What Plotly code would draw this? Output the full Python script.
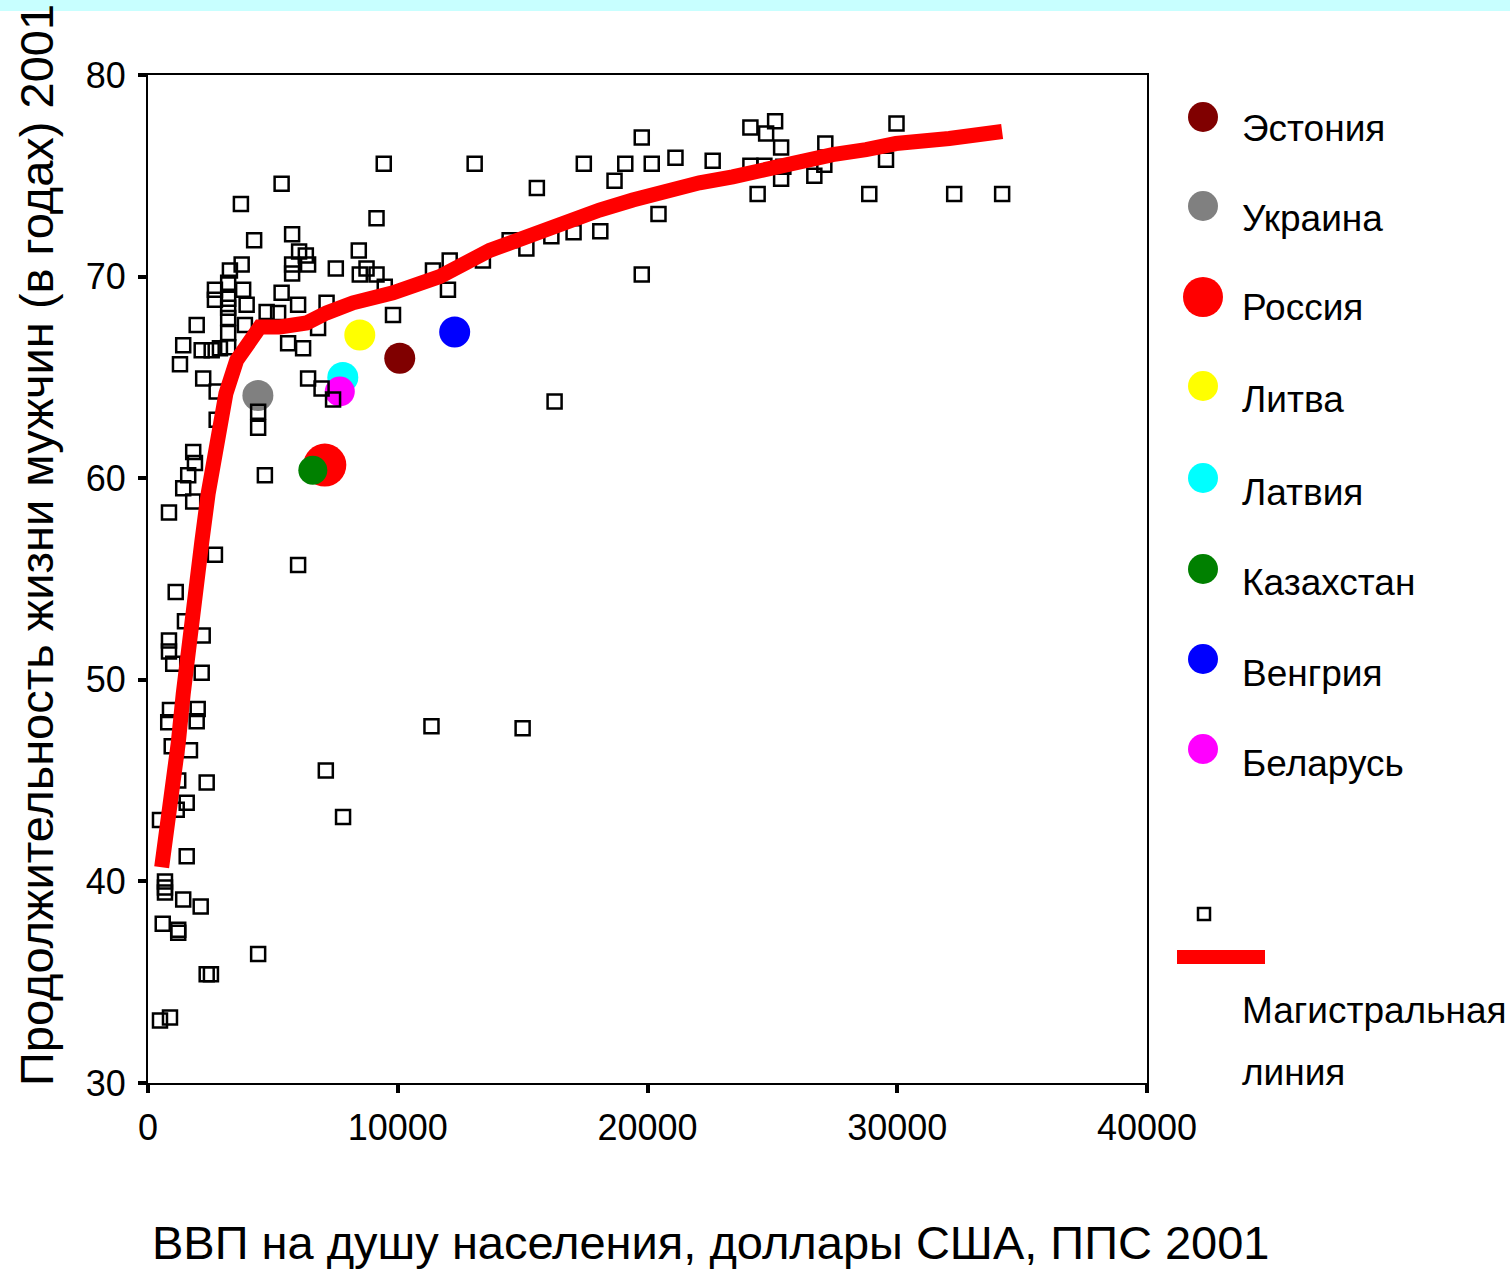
import plotly.graph_objects as go

# ---------------- data ----------------
other_gdp = [29970, 25110, 24120, 24750, 19770, 27120, 25350, 17450, 19110, 20170, 21120, 22610, 13080, 9440,
             15570, 18680, 24120, 24680, 25440, 25350, 26680, 27080, 29550, 28880, 24410, 32280, 34200, 20440,
             19770, 18110, 17040, 16150, 15150, 14480, 16280, 15000, 11350, 13410, 12080, 11410, 12010, 9810,
             9150, 5350, 3720, 4250, 5770, 6050, 6410, 5770, 5770, 6320, 7520, 8440, 8750, 8480, 9150, 9480,
             5350, 6010, 7150, 4750, 5210, 6810, 5610, 6210, 6410, 6950, 7410, 4410, 4410, 4680, 6010,
             3280, 3750, 3210, 2680, 2680, 3810, 3950, 3210, 3210, 3210, 3210, 3880, 1950, 1410, 2150, 2550,
             2880, 3210, 1280, 2210, 2750, 2750, 1810, 1880, 1610, 1410, 1810, 840, 2680, 1110, 1480, 2190,
             840, 840, 1010, 2150, 880, 810, 1990, 1950, 1680, 950, 2350, 1210, 1550, 1150, 480, 1550, 680,
             680, 680, 1410, 2110, 590, 1210, 1210, 4410, 2350, 2520, 480, 880, 7120, 7810]
other_life = [77.6, 77.7, 77.4, 77.1, 76.9, 76.6, 76.4, 75.6, 75.6, 75.6, 75.9, 75.75, 75.6, 75.6,
              74.4, 74.75, 75.5, 75.5, 75.45, 74.85, 75.0, 75.55, 75.8, 74.1, 74.1, 74.1, 74.1, 73.1,
              70.1, 72.25, 72.2, 72.0, 71.4, 71.8, 63.8, 47.6, 47.7, 70.8, 70.8, 70.3, 69.35, 68.1,
              72.9, 74.6, 73.6, 71.8, 72.1, 71.25, 70.6, 70.6, 70.15, 71.05, 70.4, 71.3, 70.4, 70.1, 70.1, 69.5,
              69.2, 68.6, 68.7, 68.25, 68.2, 67.45, 66.7, 66.45, 64.95, 64.45, 63.9, 63.3, 62.5, 60.15, 55.7,
              70.3, 70.6, 69.7, 69.35, 68.85, 69.35, 68.6, 68.9, 68.45, 67.95, 67.2, 67.6, 67.6, 66.6, 66.35, 66.35,
              66.45, 66.5, 65.65, 64.95, 64.3, 62.9, 61.3, 60.75, 60.15, 59.5, 58.85, 58.3, 56.2, 54.35, 52.9, 52.2,
              51.95, 51.4, 50.8, 50.35, 48.5, 47.9, 48.55, 47.95, 46.5, 46.7, 44.9, 45.0, 43.9, 43.55, 43.05, 41.25, 40.0,
              39.7, 39.45, 39.1, 38.75, 37.9, 37.6, 37.45, 36.4, 35.4, 35.4, 33.1, 33.25, 45.5, 43.2]

trend_gdp = [547, 880, 1210, 1410, 1610, 1880, 2150, 2410, 2640, 3120, 3550, 3950, 4480, 5280, 6350, 7150,
             8210, 9810, 11680, 13680, 15410, 16750, 18080, 19410, 20750, 22080, 23410, 24750, 26080, 27410,
             28750, 29950, 32080, 34200]
trend_life = [40.7, 43.5, 46.85, 49.3, 51.8, 54.3, 56.8, 59.25, 60.9, 64.2, 65.85, 66.7, 67.5, 67.5, 67.7, 68.2,
              68.7, 69.2, 70.0, 71.3, 72.15, 72.8, 73.3, 73.8, 74.3, 74.65, 74.95, 75.35, 75.7, 76.05,
              76.3, 76.6, 76.85, 77.2]

countries = ["Эстония", "Украина", "Россия", "Литва", "Латвия", "Казахстан", "Венгрия", "Беларусь"]
country_gdp = [10080, 4400, 7080, 8480, 7800, 6600, 12280, 7680]
country_life = [65.95, 64.1, 60.65, 67.1, 65.0, 60.4, 67.25, 64.3]
country_colors = ["#800000", "#808080", "#FF0000", "#FFFF00", "#00FFFF", "#008000", "#0000FF", "#FF00FF"]
country_sizes = [31, 31, 43, 31, 31, 29, 31, 30]

x_ticks = [0, 10000, 20000, 30000, 40000]
x_tick_labels = ["0", "10000", "20000", "30000", "40000"]
y_ticks = [30, 40, 50, 60, 70, 80]
y_tick_labels = ["30", "40", "50", "60", "70", "80"]

x_title = "ВВП на душу населения, доллары США, ППС 2001"
y_title = "Продолжительность жизни мужчин (в годах) 2001"
trend_name = ["Магистральная", "линия"]

# ---------------- layout geometry (pixels) ----------------
W, H = 1510, 1270
L, R, T, B = 148, 5, 75, 187
PW = W - L - R
PH = H - T - B
PLOT_RIGHT = 1147


def px(xp):
    return (xp - L) / PW


def py(yp):
    return (H - B - yp) / PH


SANS = "Liberation Sans, Arial, sans-serif"

fig = go.Figure()

# coloured country circles
for name, gx, ly, col, sz in zip(countries, country_gdp, country_life, country_colors, country_sizes):
    fig.add_trace(go.Scatter(x=[gx], y=[ly], mode="markers", name=name, showlegend=False,
                             marker=dict(symbol="circle", size=sz, color=col, opacity=1, line=dict(width=0))))

# other countries (open squares)
fig.add_trace(go.Scatter(x=other_gdp, y=other_life, mode="markers", showlegend=False,
                         marker=dict(symbol="square-open", size=14, color="black", line=dict(width=2.5, color="black"))))

# trend line
fig.add_trace(go.Scatter(x=trend_gdp, y=trend_life, mode="lines", showlegend=False,
                         line=dict(color="#FF0000", width=15)))

# ------------- custom legend on a pixel-scaled helper axis -------------
leg_x = 1203
leg_y = [117, 206, 297, 386, 478, 569, 659, 749]
leg_sizes = [30, 30, 40, 30, 30, 30, 30, 30]
fig.add_trace(go.Scatter(x=[leg_x] * len(countries), y=leg_y, xaxis="x2", yaxis="y2", mode="markers",
                         showlegend=False, hoverinfo="skip",
                         marker=dict(symbol="circle", size=leg_sizes, color=country_colors, opacity=1,
                                     line=dict(width=0))))
fig.add_trace(go.Scatter(x=[1204], y=[914], xaxis="x2", yaxis="y2", mode="markers", showlegend=False,
                         hoverinfo="skip",
                         marker=dict(symbol="square-open", size=12, color="black", line=dict(width=2.5, color="black"))))
fig.add_trace(go.Scatter(x=[1177, 1265], y=[957, 957], xaxis="x2", yaxis="y2", mode="lines", showlegend=False,
                         hoverinfo="skip", line=dict(color="#FF0000", width=14)))

annotations = []
leg_text_y = [128, 218, 308, 400, 492, 582, 673, 763]
for name, ty in zip(countries, leg_text_y):
    annotations.append(dict(text=name, xref="paper", yref="paper", x=px(1240), y=py(ty), xanchor="left",
                            yanchor="middle", showarrow=False, font=dict(family=SANS, size=37, color="black")))
annotations.append(dict(text=trend_name[0], xref="paper", yref="paper", x=px(1240), y=py(1010), xanchor="left",
                        yanchor="middle", showarrow=False, font=dict(family=SANS, size=37, color="black")))
annotations.append(dict(text=trend_name[1], xref="paper", yref="paper", x=px(1240), y=py(1072), xanchor="left",
                        yanchor="middle", showarrow=False, font=dict(family=SANS, size=37, color="black")))

# axis titles
annotations.append(dict(text=y_title, xref="paper", yref="paper", x=px(36), y=py(545), textangle=-90,
                        xanchor="center", yanchor="middle", showarrow=False,
                        font=dict(family=SANS, size=47, color="black")))
annotations.append(dict(text=x_title, xref="paper", yref="paper", x=px(711), y=py(1243),
                        xanchor="center", yanchor="middle", showarrow=False,
                        font=dict(family=SANS, size=47, color="black")))

axis_common = dict(showgrid=False, zeroline=False, showline=True, linecolor="black", linewidth=2,
                   mirror=True, ticks="outside", ticklen=8, tickwidth=4, tickcolor="black", automargin=False,
                   tickfont=dict(family=SANS, size=36, color="black"))

fig.update_layout(
    width=W, height=H,
    margin=dict(l=L, r=R, t=T, b=B, pad=0, autoexpand=False),
    paper_bgcolor="white", plot_bgcolor="white",
    showlegend=False,
    xaxis=dict(domain=[0, px(PLOT_RIGHT)], range=[0, 40000], tickvals=x_ticks, ticktext=x_tick_labels,
               ticklabelstandoff=4, **axis_common),
    yaxis=dict(domain=[0, 1], range=[30, 80], tickvals=y_ticks, ticktext=y_tick_labels,
               ticklabelstandoff=5, **axis_common),
    xaxis2=dict(domain=[px(1160), 1], range=[1160, W - R], anchor="y2", visible=False, fixedrange=True,
                automargin=False),
    yaxis2=dict(domain=[0, 1], range=[H - B, T], anchor="x2", visible=False, fixedrange=True,
                automargin=False),
    annotations=annotations,
    shapes=[dict(type="rect", xref="paper", yref="paper", x0=px(0), x1=px(W), y0=py(11), y1=py(0),
                 fillcolor="#C8FFFF", line=dict(width=0), layer="above")],
)

fig.write_html(
    "out.html",
    config={"displayModeBar": False},
    post_script="document.body.style.margin='0';document.body.style.overflow='hidden';"
                "document.documentElement.style.overflow='hidden';",
)
